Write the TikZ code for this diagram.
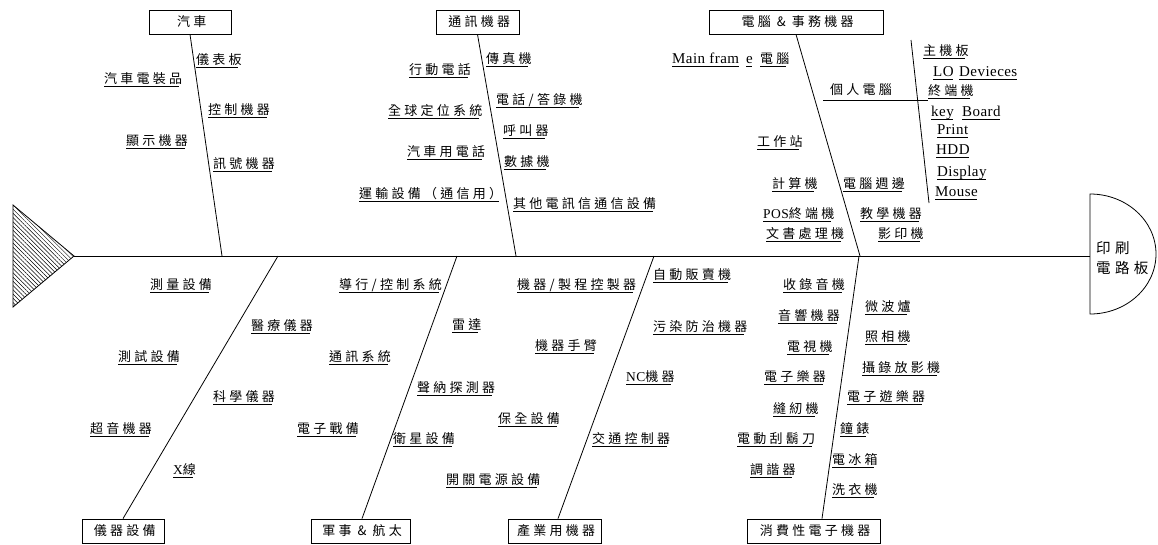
\documentclass[tikz,border=0pt]{standalone}
\usepackage{fontspec}
\setmainfont{Liberation Serif}
\newfontfamily\cjkf[LetterSpace=25]{Noto Sans CJK TC}
\newfontfamily\cjkh[LetterSpace=30]{Noto Sans CJK TC}
\newfontfamily\latf[LetterSpace=3]{Liberation Serif}
\usetikzlibrary{patterns.meta}
\newcommand\cj[1]{{\cjkf\fontsize{13}{15}\selectfont #1\kern-3.25pt}}
\newcommand\lt[1]{{\latf\fontsize{15}{17}\selectfont #1\kern-0.45pt}}
\newcommand\ls[1]{{\latf\fontsize{13.5}{15}\selectfont #1}}
\newcommand\ul[1]{\vtop{\hbox{\smash{#1}}\kern3.2pt\hrule height 0.7pt}}
\begin{document}
\begin{tikzpicture}[x=1pt,y=-1pt,
  lab/.style={anchor=base west, inner sep=0pt},
  bone/.style={line width=0.8pt},
  catbox/.style={draw, line width=0.8pt, minimum height=24pt, inner sep=0pt, fill=white}]
\useasboundingbox (0,0) rectangle (1158,544);

% tail and head
\coordinate (tail) at (74,256);
\coordinate (headL) at (1090,256);
\draw[line width=0.8pt, pattern={Lines[angle=-45,distance=3pt,line width=0.5pt]}]
  (13,205) -- (tail) -- (13,307) -- cycle;
\draw[line width=0.8pt] (1090,194) arc[start angle=-90,end angle=90,x radius=66,y radius=60] -- cycle;
\node[anchor=west, align=left, inner sep=0pt, font=\cjkh\fontsize{14.5}{20}\selectfont] (head) at (1096,258) {印刷\\電路板};

% spine
\draw[line width=0.9pt] (tail) -- (headL);

% category boxes
\node[catbox, minimum width=82pt] (car) at (190,22) {\cj{汽車}};
\node[catbox, minimum width=83pt] (com) at (477.5,22) {\cj{通訊機器}};
\node[catbox, minimum width=174pt] (pc) at (796,22) {\cj{電腦 \& 事務機器}};
\node[catbox, minimum width=82pt] (ins) at (123,531) {\cj{儀器設備}};
\node[catbox, minimum width=99pt] (mil) at (360.5,531) {\cj{軍事 \& 航太}};
\node[catbox, minimum width=93pt] (ind) at (554.5,531) {\cj{產業用機器}};
\node[catbox, minimum width=133pt] (con) at (813.5,531) {\cj{消費性電子機器}};

% junctions on spine
\coordinate (jcar) at (222,256);
\coordinate (jcom) at (516,256);
\coordinate (jpc) at (860,256);
\coordinate (jins) at (278,256);
\coordinate (jmil) at (457,256);
\coordinate (jind) at (654,256);
\coordinate (jcon) at (859,256);

\draw[bone] (car.south) -- (jcar);
\draw[bone] (com.south) -- (jcom);
\draw[bone] (pc.south) -- (jpc);
\draw[bone] (ins.north) -- (jins);
\draw[bone] ([xshift=1.5pt]mil.north) -- (jmil);
\draw[bone] ([xshift=3.5pt]ind.north) -- (jind);
\draw[bone] ([xshift=8.5pt]con.north) -- (jcon);

% personal computer sub-branch
\coordinate (pcA) at (823,100);
\coordinate (pcB) at (928,100);
\coordinate (pcT) at (911,40);
\coordinate (pcU) at (929,203);
\draw[bone] (pcA) -- (pcB);
\draw[bone] (pcT) -- (pcU);

% car labels
\node[lab] (a1) at (196,64) {\ul{\cj{儀表板}}};
\node[lab] (a2) at (104,83) {\ul{\cj{汽車電裝品}}};
\node[lab] (a3) at (208,114) {\ul{\cj{控制機器}}};
\node[lab] (a4) at (126,145) {\ul{\cj{顯示機器}}};
\node[lab] (a5) at (213,168) {\ul{\cj{訊號機器}}};

% communication labels
\node[lab] (b1) at (486,63) {\ul{\cj{傳真機}}};
\node[lab] (b2) at (409,74) {\ul{\cj{行動電話}}};
\node[lab] (b3) at (496,104) {\ul{\cj{電話/答錄機}}};
\node[lab] (b4) at (388,115) {\ul{\cj{全球定位系統}}};
\node[lab] (b5) at (503,135) {\ul{\cj{呼叫器}}};
\node[lab] (b6) at (407,156) {\ul{\cj{汽車用電話}}};
\node[lab] (b7) at (504,166) {\ul{\cj{數據機}}};
\node[lab] (b8) at (359,198) {\ul{\cj{運輸設備（通信用）}}};
\node[lab] (b9) at (513,208) {\ul{\cj{其他電訊信通信設備}}};

% computer labels
\node[lab] (c1) at (672,63) {\makebox[74pt][l]{\ul{\lt{Main fram}}}\makebox[14pt][l]{\ul{\lt{e}}}\ul{\cj{電腦}}};
\node[lab] (c2) at (923,55) {\ul{\cj{主機板}}};
\node[lab] (c3) at (933,76) {\makebox[26pt][l]{\ul{\lt{LO}}}\ul{\lt{Devieces}}};
\node[lab] (c4) at (830,94) {\cj{個人電腦}};
\node[lab] (c5) at (928,95) {\ul{\cj{終端機}}};
\node[lab] (c6) at (931,116) {\makebox[31pt][l]{\ul{\lt{key}}}\ul{\lt{Board}}};
\node[lab] (c7) at (937,134) {\ul{\lt{Print}}};
\node[lab] (c8) at (936,154) {\ul{\lt{HDD}}};
\node[lab] (c9) at (937,176) {\ul{\lt{Display}}};
\node[lab] (c10) at (935,196) {\ul{\lt{Mouse}}};
\node[lab] (c11) at (757,146) {\ul{\cj{工作站}}};
\node[lab] (c12) at (772,188) {\ul{\cj{計算機}}};
\node[lab] (c13) at (843,188) {\ul{\cj{電腦週邊}}};
\node[lab] (c14) at (763,218) {\ul{\ls{POS}\cj{終端機}}};
\node[lab] (c15) at (860,218) {\ul{\cj{教學機器}}};
\node[lab] (c16) at (766,238) {\ul{\cj{文書處理機}}};
\node[lab] (c17) at (878,238) {\ul{\cj{影印機}}};

% instrument labels
\node[lab] (d1) at (150,289) {\ul{\cj{測量設備}}};
\node[lab] (d2) at (251,330) {\ul{\cj{醫療儀器}}};
\node[lab] (d3) at (118,361) {\ul{\cj{測試設備}}};
\node[lab] (d4) at (213,401) {\ul{\cj{科學儀器}}};
\node[lab] (d5) at (90,433) {\ul{\cj{超音機器}}};
\node[lab] (d6) at (173,474) {\ul{\ls{X}\cj{線}}};

% military labels
\node[lab] (e1) at (339,289) {\ul{\cj{導行/控制系統}}};
\node[lab] (e2) at (452,329) {\ul{\cj{雷達}}};
\node[lab] (e3) at (329,361) {\ul{\cj{通訊系統}}};
\node[lab] (e4) at (417,392) {\ul{\cj{聲納探測器}}};
\node[lab] (e5) at (297,433) {\ul{\cj{電子戰備}}};
\node[lab] (e6) at (393,443) {\ul{\cj{衛星設備}}};

% industry labels
\node[lab] (f1) at (517,289) {\ul{\cj{機器/製程控製器}}};
\node[lab] (f2) at (535,350) {\ul{\cj{機器手臂}}};
\node[lab] (f3) at (498,423) {\ul{\cj{保全設備}}};
\node[lab] (f4) at (446,484) {\ul{\cj{開關電源設備}}};
\node[lab] (f5) at (653,279) {\ul{\cj{自動販賣機}}};
\node[lab] (f6) at (653,331) {\ul{\cj{污染防治機器}}};
\node[lab] (f7) at (626,381) {\ul{\ls{NC}\cj{機器}}};
\node[lab] (f8) at (592,443) {\ul{\cj{交通控制器}}};

% consumer labels
\node[lab] (g1) at (783,289) {\ul{\cj{收錄音機}}};
\node[lab] (g2) at (778,320) {\ul{\cj{音響機器}}};
\node[lab] (g3) at (787,351) {\ul{\cj{電視機}}};
\node[lab] (g4) at (764,381) {\ul{\cj{電子樂器}}};
\node[lab] (g5) at (773,413) {\ul{\cj{縫紉機}}};
\node[lab] (g6) at (737,443) {\ul{\cj{電動刮鬍刀}}};
\node[lab] (g7) at (750,474) {\ul{\cj{調諧器}}};
\node[lab] (g8) at (865,311) {\ul{\cj{微波爐}}};
\node[lab] (g9) at (865,341) {\ul{\cj{照相機}}};
\node[lab] (g10) at (862,372) {\ul{\cj{攝錄放影機}}};
\node[lab] (g11) at (847,401) {\ul{\cj{電子遊樂器}}};
\node[lab] (g12) at (840,433) {\ul{\cj{鐘錶}}};
\node[lab] (g13) at (832,464) {\ul{\cj{電冰箱}}};
\node[lab] (g14) at (832,494) {\ul{\cj{洗衣機}}};
\end{tikzpicture}
\end{document}
